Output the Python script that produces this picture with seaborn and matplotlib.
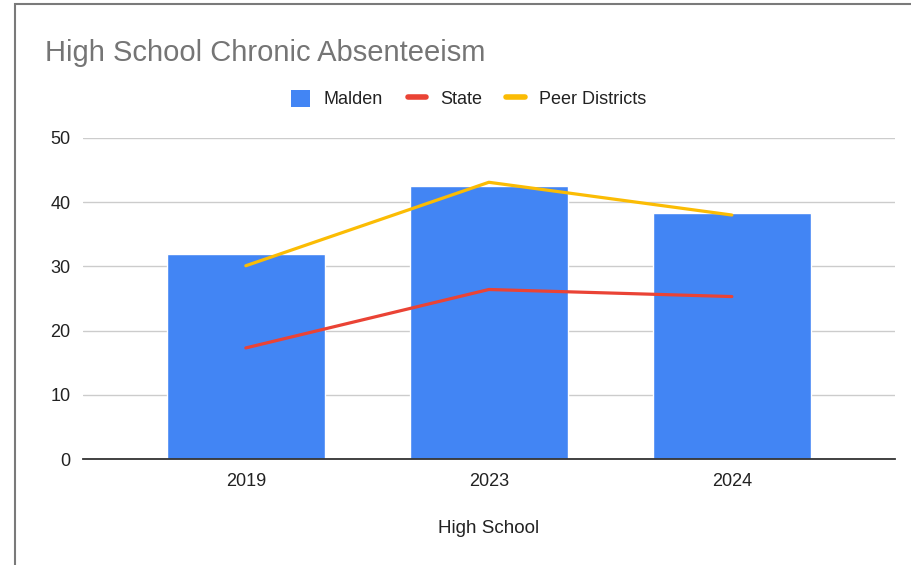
import matplotlib
matplotlib.use("Agg")
import matplotlib.pyplot as plt
import seaborn as sns
import pandas as pd
from matplotlib.patches import Patch, Rectangle
from matplotlib.lines import Line2D

# Chronic absenteeism rates (%) for high school students
years = ["2019", "2023", "2024"]
malden = [31.9, 42.5, 38.3]
state = [17.3, 26.4, 25.3]
peer_districts = [30.1, 43.1, 38.0]

BLUE = "#4285F4"
RED = "#EA4335"
YELLOW = "#FBBC04"

sns.set_theme(style="white")
plt.rcParams["font.family"] = ["Liberation Sans", "DejaVu Sans"]

df = pd.DataFrame({"year": years, "Malden": malden,
                   "State": state, "Peer Districts": peer_districts})
df["pos"] = range(len(years))

fig = plt.figure(figsize=(9.12, 5.65), dpi=100)
ax = fig.add_axes([0.091, 0.1876, 0.890, 0.5682])

sns.barplot(data=df, x="year", y="Malden", color=BLUE, saturation=1,
            width=0.65, ax=ax, zorder=2)
sns.lineplot(data=df, x="pos", y="State", color=RED, linewidth=2.3,
             ax=ax, zorder=3)
sns.lineplot(data=df, x="pos", y="Peer Districts", color=YELLOW,
             linewidth=2.3, ax=ax, zorder=3)

ax.set_xlim(-0.67, 2.67)
ax.set_ylim(0, 50)
ax.set_yticks([0, 10, 20, 30, 40, 50])
ax.set_xticks(range(len(years)))
ax.set_xticklabels(years)
ax.yaxis.grid(True, color="#cccccc", linewidth=1.0, zorder=0)
ax.set_axisbelow(True)
for side in ["top", "right", "left"]:
    ax.spines[side].set_visible(False)
ax.spines["bottom"].set_color("#333333")
ax.spines["bottom"].set_linewidth(1.3)
ax.tick_params(axis="both", length=0, labelsize=13, colors="#222222")
ax.tick_params(axis="y", pad=9)
ax.tick_params(axis="x", pad=10)
ax.set_ylabel("")
ax.set_xlabel("High School", fontsize=13.5, color="#222222", labelpad=22)

fig.text(0.049, 0.907, "High School Chronic Absenteeism", fontsize=21,
         color="#757575", va="center", ha="left")

handles = [
    Patch(facecolor=BLUE, edgecolor="none", label="Malden"),
    Line2D([0], [0], color=RED, linewidth=4, label="State"),
    Line2D([0], [0], color=YELLOW, linewidth=4, label="Peer Districts"),
]
fig.legend(handles=handles, loc="center", bbox_to_anchor=(0.514, 0.8245),
           ncol=3, frameon=False, fontsize=13, handlelength=1.05,
           handleheight=1.05, handletextpad=0.75, columnspacing=1.35,
           labelcolor="#222222")

# Outer frame of the chart card
fig.patches.append(Rectangle((15.5 / 912, -0.05), 1.0, 1.05 - 4 / 565,
                             transform=fig.transFigure, fill=False,
                             edgecolor="#7a7a7a", linewidth=1.5))

fig.savefig("out.png", dpi=100, facecolor="white")
